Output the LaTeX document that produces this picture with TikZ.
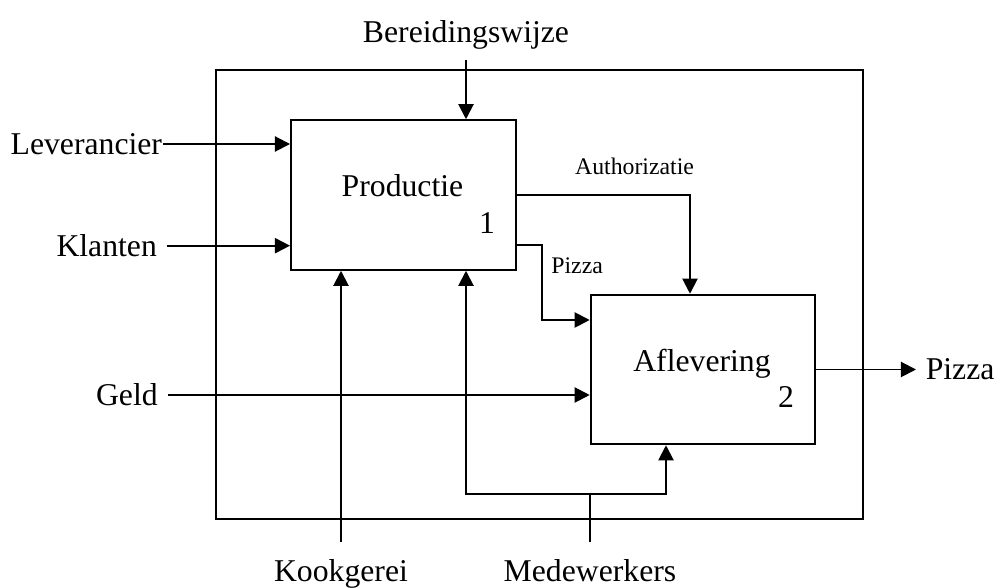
\documentclass[tikz,border=0pt]{standalone}
\usepackage{fontspec}
\setmainfont{Liberation Serif}
\usetikzlibrary{positioning,calc,arrows.meta}

\begin{document}
\begin{tikzpicture}[
			x=0.3785pt, y=-0.3785pt,
			font=\fontsize{12}{14}\selectfont,
			line width=0.75pt,
			pijl/.style = {-{Triangle[length=5.7pt, width=5.7pt]}},
			proces/.style = {draw, minimum width=85pt, minimum height=56.6pt, inner sep=0pt},
			klein/.style = {font=\fontsize{9}{11}\selectfont}
		]
		\useasboundingbox (0,0) rectangle (997,588);
		\node[draw, minimum width=244.9pt, minimum height=169.9pt] (omgeving) at (539.5,294.5) {};
		\node[proces] (productie) at (403.3,195) {};
		\node[anchor=base] (productie-tekst) at (402.5,197) {Productie};
		\node[anchor=base] (productie-nr) at (487,234) {1};
		\node[proces] (aflevering) at (703,369.5) {};
		\node[anchor=base] (aflevering-tekst) at (702,372) {Aflevering};
		\node[anchor=base] (aflevering-nr) at (786,408) {2};
		% Outside labels.
		\node[anchor=base] (bereiding) at (466,43) {Bereidingswijze};
		\node[anchor=east, inner xsep=0pt] (leverancier) at (163,144) {Leverancier};
		\node[anchor=east] (klanten) at (166.7,245.7) {Klanten};
		\node[anchor=east] (geld) at (167.5,395) {Geld};
		\node[anchor=base] (kookgerei) at (341,582) {Kookgerei};
		\node[anchor=base] (medewerkers) at (590,582) {Medewerkers};
		\node[anchor=west] (pizza-uit) at (916,369.5) {Pizza};
		\coordinate (splitsing) at (590,494);
		% Draw the inputs.
		\draw[pijl] (bereiding) -- (bereiding |- productie.north);
		\draw[pijl] (leverancier) -- (productie.west |- leverancier);
		\draw[pijl] (klanten) -- (productie.west |- klanten);
		\draw[pijl] (geld) -- (aflevering.west |- geld);
		\draw[pijl] ([yshift=3pt]kookgerei.north) -- (kookgerei |- productie.south);
		\draw ([yshift=3pt]medewerkers.north) -- (splitsing);
		\draw[pijl] (splitsing) -| (bereiding |- productie.south);
		\draw[pijl] (splitsing) -| ($(aflevering.south)+(-37,0)$);
		% Draw the flows between the processes.
		\draw[pijl] (productie.east) -| node[klein, pos=0.34, above=4pt] {Authorizatie} ($(aflevering.north)+(-13,0)$);
		\draw[pijl] ($(productie.east)+(0,50)$) -- ++(25,0) |- node[klein, pos=0.14, right] {Pizza} ($(aflevering.west)+(0,-49.5)$);
		\draw[pijl] (aflevering.east) -- (pizza-uit);
	\end{tikzpicture}
\end{document}
